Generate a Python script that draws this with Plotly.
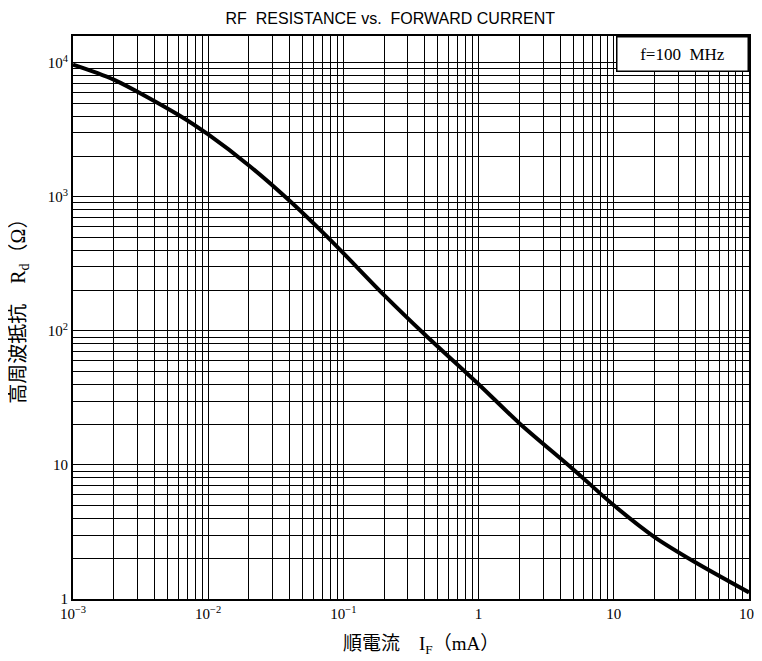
import plotly.graph_objects as go

# Data
forward_current_mA = [0.001, 0.002, 0.006, 0.01, 0.02, 0.04, 0.08, 0.2, 0.4, 1, 2, 5, 10, 20, 40, 100]
rf_resistance_ohm = [9700, 7500, 4100, 2920, 1715, 935, 478, 185, 94, 40, 20.5, 9.3, 5.0, 2.9, 1.88, 1.12]

x_tickvals = [1e-3, 1e-2, 1e-1, 1, 10, 100]
x_ticktext = ["10<sup>−3</sup>", "10<sup>−2</sup>", "10<sup>−1</sup>", "1", "10", "10<sup>2</sup>"]
y_tickvals = [1, 10, 100, 1000, 10000]
y_ticktext = ["1", "10", "10<sup>2</sup>", "10<sup>3</sup>", "10<sup>4</sup>"]

serif = "Liberation Serif, DejaVu Serif, Noto Sans CJK JP, serif"

fig = go.Figure()
fig.add_trace(go.Scatter(
    x=forward_current_mA, y=rf_resistance_ohm, mode="lines",
    line=dict(color="black", width=4, shape="spline", smoothing=0.8),
    showlegend=False,
))

axis_common = dict(
    type="log",
    automargin=False,
    showline=True, linecolor="black", linewidth=2, mirror=True,
    showgrid=True, gridcolor="black", gridwidth=1.2,
    ticks="", zeroline=False,
    tickmode="array",
    tickfont=dict(family=serif, size=15, color="black"),
    minor=dict(showgrid=True, gridcolor="black", gridwidth=1.2, dtick="D1", ticks=""),
)

fig.update_xaxes(range=[-3, 2], tickvals=x_tickvals, ticktext=x_ticktext, **axis_common)
fig.update_yaxes(range=[0, 4.2], tickvals=y_tickvals, ticktext=y_ticktext, **axis_common)

# axis titles placed as text to match the reference positions
fig.add_annotation(text="順電流　I<sub>F</sub>（mA）", xref="paper", yref="paper",
                   x=0.515, y=-0.0817, xanchor="center", yanchor="middle",
                   showarrow=False, font=dict(family=serif, size=19, color="black"))
fig.add_annotation(text="高周波抵抗　R<sub>d</sub>（Ω）", xref="paper", yref="paper",
                   x=-0.0784, y=0.519, xanchor="center", yanchor="middle",
                   textangle=-90, showarrow=False,
                   font=dict(family=serif, size=20, color="black"))

fig.add_annotation(text="f=100  MHz", xref="paper", yref="paper", x=1.0, y=1.0,
                   xanchor="right", yanchor="top", showarrow=False,
                   width=128, height=31, align="center", valign="middle",
                   bgcolor="white", bordercolor="black", borderwidth=1.5, borderpad=1,
                   font=dict(family=serif, size=17, color="black"))

fig.update_layout(
    width=754, height=653,
    margin=dict(l=65, r=13, t=28, b=62),
    paper_bgcolor="white", plot_bgcolor="white",
    title=dict(text="RF  RESISTANCE vs.  FORWARD CURRENT", x=0.507, xanchor="center",
               y=0.984, yanchor="middle", yref="container",
               font=dict(family="Liberation Sans, Arial, sans-serif", size=16, color="black")),
)

fig.write_html("out.html")
